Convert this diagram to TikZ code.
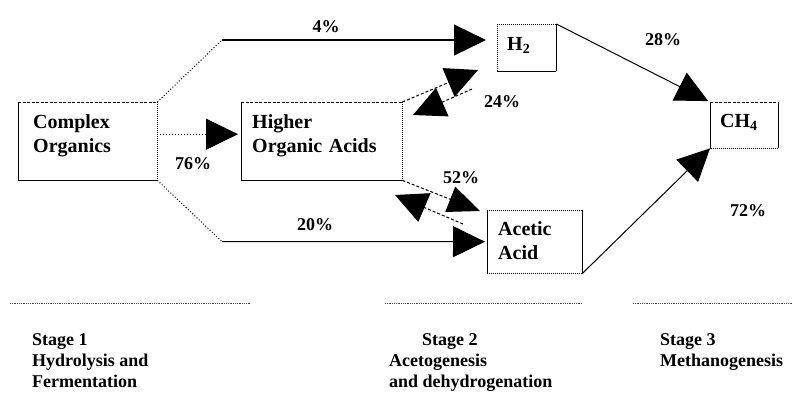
\documentclass[tikz,border=0pt]{standalone}
\usepackage{fontspec}
\setmainfont{Liberation Serif}
\usetikzlibrary{arrows.meta}
\newcommand{\myedges}[5]{%
  \draw[#2] (#1.north west) -- (#1.north east);
  \draw[#3] (#1.north east) -- (#1.south east);
  \draw[#4] (#1.south east) -- (#1.south west);
  \draw[#5] (#1.south west) -- (#1.north west);}
\begin{document}
\begin{tikzpicture}[x=1pt,y=-1pt,
  box/.style={draw=none, anchor=north west, inner xsep=#1, inner ysep=0pt,
    align=left, font=\fontsize{20}{24}\selectfont\bfseries},
  eds/.style={line width=0.8pt},
  edd/.style={line width=0.8pt, dash pattern=on 3pt off 1.5pt},
  edo/.style={line width=0.9pt, dash pattern=on 1pt off 1pt},
  conn/.style={line width=1pt},
  connthick/.style={line width=1.3pt},
  conndot/.style={line width=1pt, dash pattern=on 1pt off 2pt},
  conndash/.style={line width=1pt, dash pattern=on 3pt off 2pt},
  bigtip/.style={-{Triangle[length=32pt,width=31pt]}},
  midtip/.style={-{Triangle[length=32pt,width=27pt]}},
  pct/.style={font=\fontsize{18}{21}\selectfont\bfseries, inner sep=0pt},
  stage/.style={font=\fontsize{18}{21}\selectfont\bfseries, align=left,
    anchor=north west, inner sep=0pt},
  sep/.style={line width=0.8pt, black!75, dash pattern=on 1pt off 0.8pt}]
\useasboundingbox (0,0) rectangle (792,392);

% boxes
\node[box=15pt, text width=109pt] (co) at (18,102)
  {\rule{0pt}{26pt}Complex\\Organics\rule[-28pt]{0pt}{28pt}};
\node[box=11pt, text width=139pt] (hoa) at (241,102)
  {\rule{0pt}{26pt}Higher\\Organic Acids\rule[-28pt]{0pt}{28pt}};
\node[box=10pt, text width=39pt] (h2) at (497,24)
  {\rule[-21pt]{0pt}{47pt}H\textsubscript{2}};
\node[box=10pt, text width=48pt] (ch4) at (710,102)
  {\rule[-21pt]{0pt}{46pt}CH\textsubscript{4}};
\node[box=11pt, text width=73pt] (ac) at (487,210)
  {\rule{0pt}{25pt}Acetic\\Acid\rule[-14pt]{0pt}{14pt}};

\myedges{co}{edd}{edo}{eds}{eds}
\myedges{hoa}{edd}{edo}{eds}{eds}
\myedges{h2}{edo}{eds}{eds}{edo}
\myedges{ch4}{edd}{eds}{edo}{eds}
\myedges{ac}{edo}{eds}{edo}{eds}

% connectors from Complex Organics
\coordinate (k1) at (222,40);
\coordinate (k2) at (222,241.5);
\draw[conndot] (co.north east) -- (k1);
\draw[connthick, bigtip, shorten >=11pt] (k1) -- (k1 -| h2.west);
\draw[conndot, bigtip, shorten >=3pt] ([yshift=7pt]co.east) -- ([yshift=7pt]hoa.west);
\draw[conndot] (co.south east) -- (k2);
\draw[conn, bigtip, shorten >=2pt] (k2) -- (ac.west);

% Higher Organic Acids <-> H2
\coordinate (u1) at (478,70);
\coordinate (u2) at (472,89);
\coordinate (u3) at (413,115);
\draw[conndash, bigtip] (hoa.north east) -- (u1);
\draw[conndash, bigtip] (u2) -- (u3);

% Higher Organic Acids <-> Acetic Acid
\coordinate (l1) at (480,211);
\coordinate (l2) at (463,224);
\coordinate (l3) at (395,195);
\draw[conndash, midtip] (hoa.south east) -- (l1);
\draw[conndash, bigtip] (l2) -- (l3);

% to CH4
\draw[conn, bigtip, shorten >=2pt] (h2.north east) -- (ch4.north west);
\draw[conn, bigtip] (ac.south east) -- (ch4.south west);

% percentages
\node[pct] (p4) at (326,27) {4\%};
\node[pct] (p76) at (193,164) {76\%};
\node[pct] (p20) at (315,225) {20\%};
\node[pct] (p24) at (502,102) {24\%};
\node[pct] (p52) at (461,178) {52\%};
\node[pct] (p28) at (663,40) {28\%};
\node[pct] (p72) at (748,211) {72\%};

% separators
\draw[sep] (10,303) -- (250,303);
\draw[sep] (385,303) -- (582,303);
\draw[sep] (633,303) -- (792,303);

% stage texts
\node[stage] (s1) at (32,333) {Stage 1\\Hydrolysis and\\Fermentation};
\node[stage] (s2) at (389,333) {\hspace*{33pt}Stage 2\\Acetogenesis\\and dehydrogenation};
\node[stage] (s3) at (660,333) {Stage 3\\Methanogenesis};
\end{tikzpicture}
\end{document}
